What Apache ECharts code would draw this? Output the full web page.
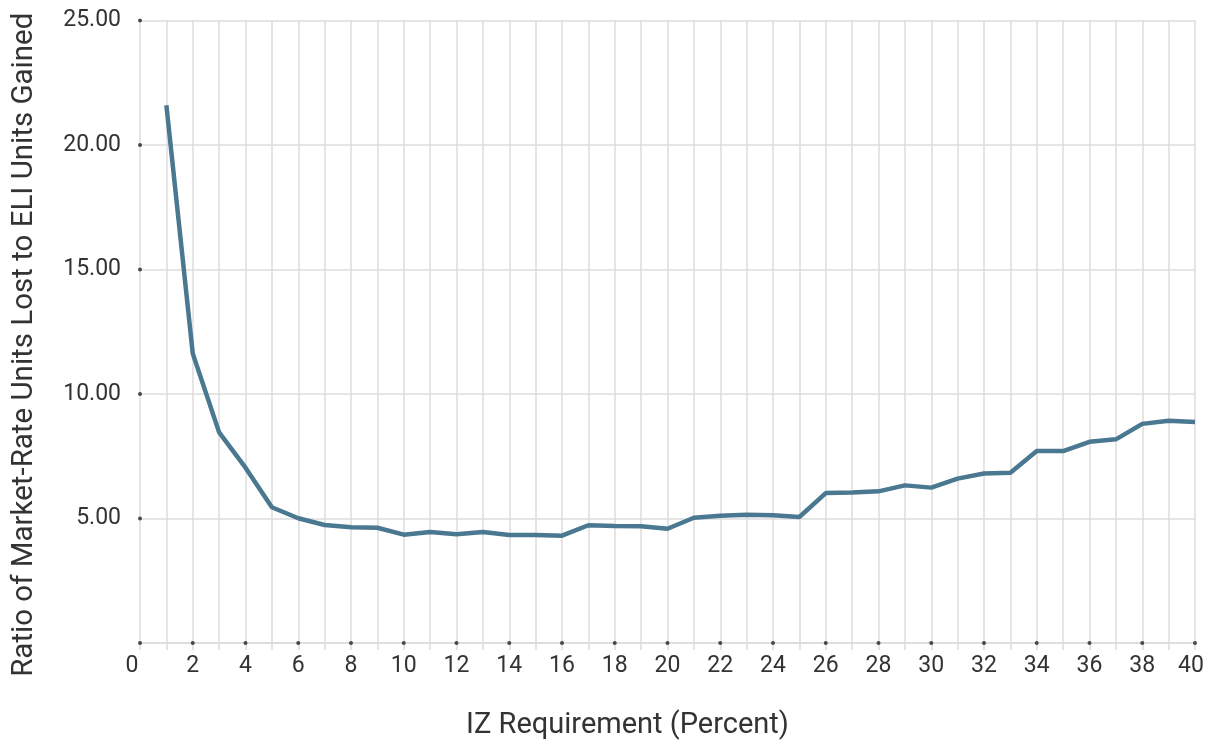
<!DOCTYPE html>
<html>
<head>
<meta charset="utf-8">
<script src="https://cdn.jsdelivr.net/npm/echarts@6/dist/echarts.min.js"></script>
<style>html,body{margin:0;padding:0;background:#fff}#c{width:1209px;height:742px}</style>
</head>
<body>
<div id="c"></div>
<script>
const xValues = [1,2,3,4,5,6,7,8,9,10,11,12,13,14,15,16,17,18,19,20,21,22,23,24,25,26,27,28,29,30,31,32,33,34,35,36,37,38,39,40];
const ratioValues = [21.6,11.63,8.46,7.04,5.45,5.01,4.74,4.65,4.63,4.35,4.46,4.37,4.46,4.34,4.34,4.31,4.73,4.70,4.69,4.59,5.03,5.11,5.15,5.13,5.06,6.02,6.04,6.09,6.33,6.24,6.60,6.81,6.84,7.71,7.71,8.08,8.18,8.80,8.93,8.88];
const yTicks = [0,5,10,15,20,25];
const xLabelTicks = [0,2,4,6,8,10,12,14,16,18,20,22,24,26,28,30,32,34,36,38,40];
const xTitle = 'IZ Requirement (Percent)';
const yTitle = 'Ratio of Market-Rate Units Lost to ELI Units Gained';

const chart = echarts.init(document.getElementById('c'));
const dots = xLabelTicks.map(v => [v, 0]).concat(yTicks.filter(v => v > 0).map(v => [0, v]));
chart.setOption({
  animation: false,
  grid: {left: 140, right: 14, top: 20.5, bottom: 99, containLabel: false, outerBoundsMode: 'none'},
  xAxis: {
    type: 'value', min: 0, max: 40, interval: 1,
    name: xTitle, nameLocation: 'middle', nameGap: 68,
    nameTextStyle: {fontFamily: 'Roboto', fontSize: 29, color: '#333', padding: [0, 80, 0, 0]},
    axisLine: {show: true, lineStyle: {color: '#dcdcdc', width: 1.5}},
    axisTick: {show: true, length: 7, lineStyle: {color: '#dcdcdc', width: 1.5}},
    axisLabel: {
      fontFamily: 'Roboto', fontSize: 23, color: '#333', margin: 12,
      formatter: v => {
        if (v % 2 !== 0) return '';
        if (v === 0) return '{l|0}';
        if (v === 40) return '{r|40}';
        return String(v);
      },
      rich: {
        l: {fontFamily: 'Roboto', fontSize: 23, color: '#333', padding: [0, 16, 0, 0]},
        r: {fontFamily: 'Roboto', fontSize: 23, color: '#333', padding: [0, 8, 0, 0]}
      }
    },
    splitLine: {show: true, lineStyle: {color: '#dcdcdc', width: 1.5}}
  },
  yAxis: {
    type: 'value', min: 0, max: 25, interval: 5,
    name: yTitle, nameLocation: 'middle', nameGap: 100, nameRotate: 90,
    nameTextStyle: {fontFamily: 'Roboto', fontSize: 29.5, color: '#333', padding: [0, 26, 0, 0]},
    axisLine: {show: false},
    axisTick: {show: false},
    axisLabel: {
      fontFamily: 'Roboto', fontSize: 23, color: '#333', margin: 19,
      formatter: v => (v === 0 ? '' : v.toFixed(2))
    },
    splitLine: {show: true, lineStyle: {color: '#dcdcdc', width: 1.5}}
  },
  series: [
    {
      type: 'line',
      data: xValues.map((x, i) => [x, ratioValues[i]]),
      showSymbol: false,
      lineStyle: {color: '#4a7890', width: 4.5},
      itemStyle: {color: '#4a7890'},
      z: 3
    },
    {
      type: 'scatter',
      data: dots,
      symbolSize: 4,
      itemStyle: {color: '#222'},
      silent: true,
      z: 4
    }
  ]
});
</script>
</body>
</html>
